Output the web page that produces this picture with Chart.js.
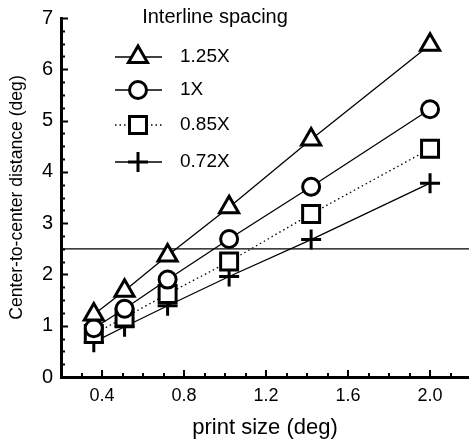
<!DOCTYPE html>
<html>
<head>
<meta charset="utf-8">
<script src="https://cdn.jsdelivr.net/npm/chart.js"></script>
<style>
  html, body { margin: 0; padding: 0; background: #fff; }
  #wrap { width: 469px; height: 440px; }
</style>
</head>
<body>
<div id="wrap"><canvas id="chart" width="469" height="440"></canvas></div>
<script>
// values
const printSize = [0.36, 0.51, 0.72, 1.02, 1.42, 2.0];
const spacing125 = [1.22, 1.68, 2.37, 3.31, 4.63, 6.48];
const spacing100 = [0.95, 1.33, 1.90, 2.69, 3.71, 5.22];
const spacing085 = [0.84, 1.16, 1.62, 2.25, 3.18, 4.45];
const spacing072 = [0.68, 0.98, 1.39, 1.96, 2.68, 3.78];
const seriesLabels = ['1.25X', '1X', '0.85X', '0.72X'];
const xTickValues = [0.4, 0.8, 1.2, 1.6, 2.0];
const criticalSpacing = 2.5;

const FONT = '"Liberation Sans", Arial, sans-serif';

function points(ys) {
  return printSize.map((x, i) => ({ x: x, y: ys[i] }));
}

function series(label, ys, style, radius, dash) {
  return {
    label: label,
    data: points(ys),
    borderColor: '#000',
    borderWidth: 1.3,
    borderDash: dash || [],
    pointStyle: style,
    pointRadius: radius,
    pointHoverRadius: radius,
    pointBorderWidth: 3,
    pointBorderColor: '#000',
    pointBackgroundColor: '#fff',
    tension: 0
  };
}

// inward tick marks on both axes + legend box
const decorations = {
  id: 'decorations',
  afterDraw(chart) {
    const ctx = chart.ctx;
    const xs = chart.scales.x, ys = chart.scales.y;
    const area = chart.chartArea;
    ctx.save();
    ctx.strokeStyle = '#000';
    ctx.lineWidth = 2;
    // y ticks every 0.25
    for (let v = 0; v <= 7.0001; v += 0.25) {
      const py = Math.round(ys.getPixelForValue(v)) + 0.5;
      const major = Math.abs(v - Math.round(v)) < 1e-6;
      ctx.beginPath();
      ctx.moveTo(area.left, py);
      ctx.lineTo(area.left + (major ? 7 : 4), py);
      ctx.stroke();
    }
    // x ticks every 0.1
    for (let k = 3; k <= 21; k++) {
      const v = k / 10;
      const px = Math.round(xs.getPixelForValue(v));
      const major = k % 4 === 0;
      ctx.beginPath();
      ctx.moveTo(px, area.bottom);
      ctx.lineTo(px, area.bottom - (major ? 7 : 4));
      ctx.stroke();
    }

    // legend
    ctx.fillStyle = '#000';
    ctx.font = '20px ' + FONT;
    ctx.textAlign = 'center';
    ctx.textBaseline = 'middle';
    ctx.fillText('Interline spacing', 215, 17);

    const rowY = [57, 90, 125, 162];
    ctx.font = '19px ' + FONT;
    ctx.textAlign = 'left';
    for (let i = 0; i < 4; i++) {
      const ds = chart.data.datasets[i];
      const y = rowY[i];
      ctx.save();
      ctx.lineWidth = 1.6;
      ctx.setLineDash(ds.borderDash);
      ctx.beginPath();
      ctx.moveTo(115, y);
      ctx.lineTo(162, y);
      ctx.stroke();
      ctx.restore();
      ctx.save();
      ctx.lineWidth = ds.pointBorderWidth;
      ctx.strokeStyle = '#000';
      ctx.fillStyle = '#fff';
      Chart.helpers.drawPoint(ctx, {
        pointStyle: ds.pointStyle,
        radius: ds.pointRadius,
        rotation: 0,
        borderWidth: ds.pointBorderWidth
      }, 138, y);
      ctx.restore();
      ctx.fillText(seriesLabels[i], 180, y);
    }
    ctx.restore();
  }
};

new Chart(document.getElementById('chart'), {
  type: 'line',
  data: {
    datasets: [
      series(seriesLabels[0], spacing125, 'triangle', 11),
      series(seriesLabels[1], spacing100, 'circle', 8.5),
      series(seriesLabels[2], spacing085, 'rect', 12, [1.5, 3]),
      series(seriesLabels[3], spacing072, 'cross', 10),
      {
        label: 'criterion',
        data: [{ x: 0.2, y: criticalSpacing }, { x: 2.19, y: criticalSpacing }],
        borderColor: '#000',
        borderWidth: 1.3,
        pointRadius: 0,
        pointHoverRadius: 0
      }
    ]
  },
  options: {
    responsive: false,
    animation: false,
    events: [],
    layout: { autoPadding: false, padding: { top: 18, right: 0, left: 0, bottom: 0 } },
    plugins: {
      legend: { display: false },
      tooltip: { enabled: false }
    },
    scales: {
      x: {
        type: 'linear',
        min: 0.2,
        max: 2.19,
        afterBuildTicks(scale) {
          scale.ticks = xTickValues.map(v => ({ value: v }));
        },
        afterFit(scale) {
          scale.height = 63;
          scale.paddingLeft = 0;
          scale.paddingRight = 0;
        },
        grid: { display: false, drawTicks: false },
        border: { display: true, color: '#000', width: 3 },
        ticks: {
          padding: 8,
          color: '#000',
          maxRotation: 0,
          font: { family: FONT, size: 18 },
          callback: v => Number(v).toFixed(1)
        },
        title: {
          display: true,
          text: 'print size (deg)',
          color: '#000',
          font: { family: FONT, size: 22, lineHeight: 1 },
          padding: { top: 0, bottom: 1 }
        }
      },
      y: {
        type: 'linear',
        min: 0,
        max: 7,
        afterFit(scale) {
          scale.width = 61;
          scale.paddingTop = 0;
          scale.paddingBottom = 0;
        },
        grid: { display: false, drawTicks: false },
        border: { display: true, color: '#000', width: 3 },
        ticks: {
          stepSize: 1,
          padding: 8,
          color: '#000',
          font: { family: FONT, size: 20 }
        },
        title: {
          display: true,
          text: 'Center-to-center distance (deg)',
          color: '#000',
          font: { family: FONT, size: 17.6, lineHeight: 1 },
          padding: { top: 8, bottom: 0 }
        }
      }
    }
  },
  plugins: [decorations]
});
</script>
</body>
</html>
